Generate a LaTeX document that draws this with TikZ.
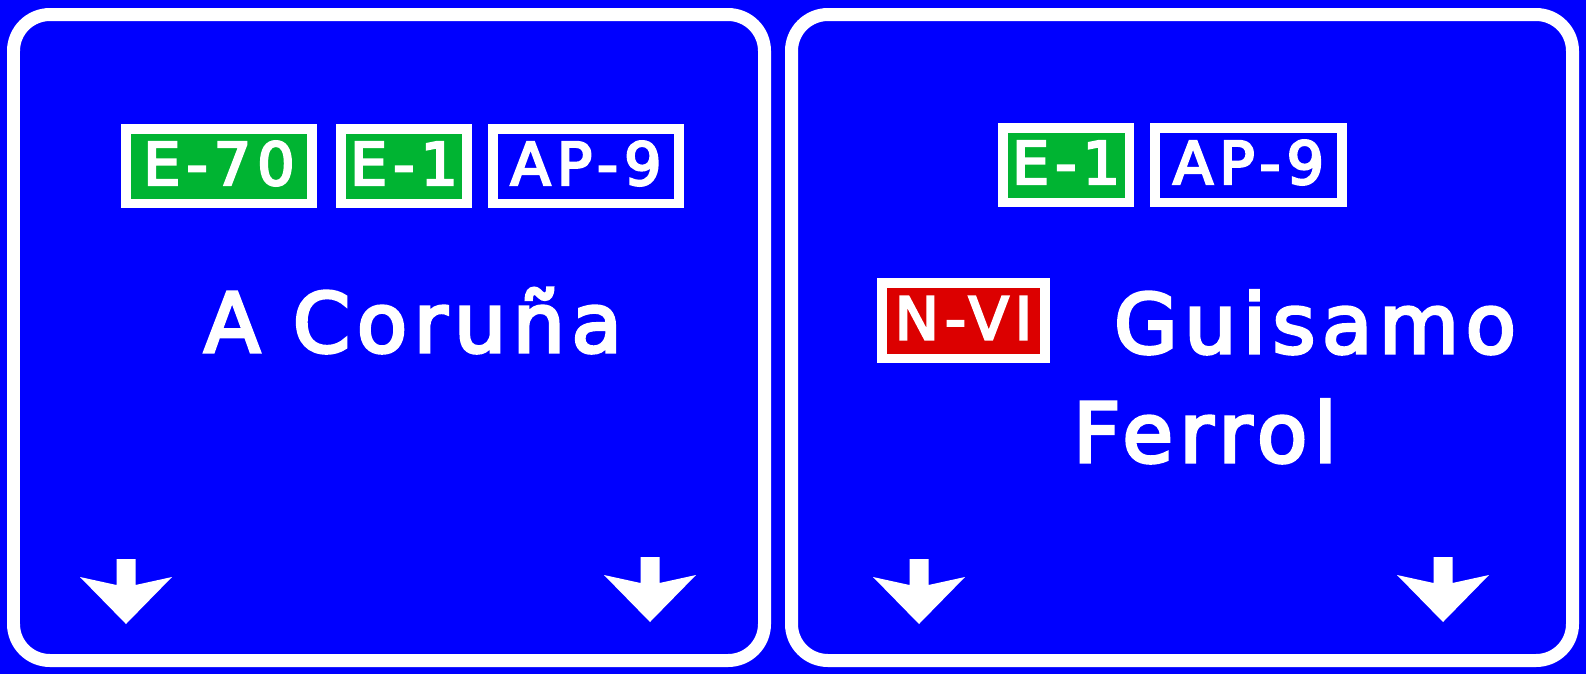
\documentclass[tikz,border=0pt]{standalone}
\usepackage{fontspec}
\usepackage{tikz}
\usetikzlibrary{positioning}
\newfontfamily\signfont{DejaVu Sans}[LetterSpace=8,FakeBold=4]
\newfontfamily\shieldfont{DejaVu Sans}[LetterSpace=10,FakeBold=4]
\definecolor{signblue}{RGB}{0,0,255}
\definecolor{roadgreen}{RGB}{0,180,50}
\definecolor{roadred}{RGB}{220,0,0}
\tikzset{
    signpanel/.style={draw=white, line width=0.26cm, rounded corners=0.73cm},
    shield/.style={draw=white, line width=0.19cm, text=white, inner sep=0pt,
        minimum height=1.49cm, text height=0.86cm, text depth=0.1cm,
        font=\shieldfont\fontsize{33.6pt}{36pt}\selectfont},
    place/.style={text=white, inner sep=0pt, anchor=base,
        font=\signfont\fontsize{46.8pt}{50pt}\selectfont}
}

\begin{document}
\begin{tikzpicture}[x=0.02cm, y=-0.02cm]
    \fill[signblue] (0,0) rectangle (1586,674);
    \useasboundingbox (0,0) rectangle (1586,674);

    % the two panels
    \draw[signpanel] (13.5,14.5) rectangle (764.5,660.5);
    \draw[signpanel] (791.5,14.5) rectangle (1572.5,660.5);

    % left panel
    \node[shield, fill=roadgreen, minimum width=3.73cm] (e70) at (219,166) {E-70};
    \node[shield, fill=roadgreen, minimum width=2.53cm] (e1l) at (404,166) {E-1};
    \node[shield, fill=signblue, minimum width=3.73cm] (ap9l) at (586,166) {AP-9};
    \node[place] (coruna) at (413,352) {A Coruña};

    % right panel
    \node[shield, fill=roadgreen, minimum width=2.53cm] (e1r) at (1066,165) {E-1};
    \node[shield, fill=signblue, minimum width=3.75cm] (ap9r) at (1248.5,165) {AP-9};
    \node[shield, fill=roadred, minimum width=3.27cm, minimum height=1.51cm] (nvi) at (963.5,320.5) {N-VI};
    \node[place] (guisamo) at (1315,353) {Guisamo};
    \node[place] (ferrol) at (1205,462) {Ferrol};

    % lane arrows
    \foreach \ax/\ay in {126/559, 650/557, 919/559, 1443/557}
        \fill[white] (\ax-9.5,\ay) -- (\ax+9.5,\ay) -- (\ax+9.5,\ay+26)
            -- (\ax+46,\ay+18) -- (\ax,\ay+65) -- (\ax-46,\ay+18)
            -- (\ax-9.5,\ay+26) -- cycle;
\end{tikzpicture}
\end{document}
